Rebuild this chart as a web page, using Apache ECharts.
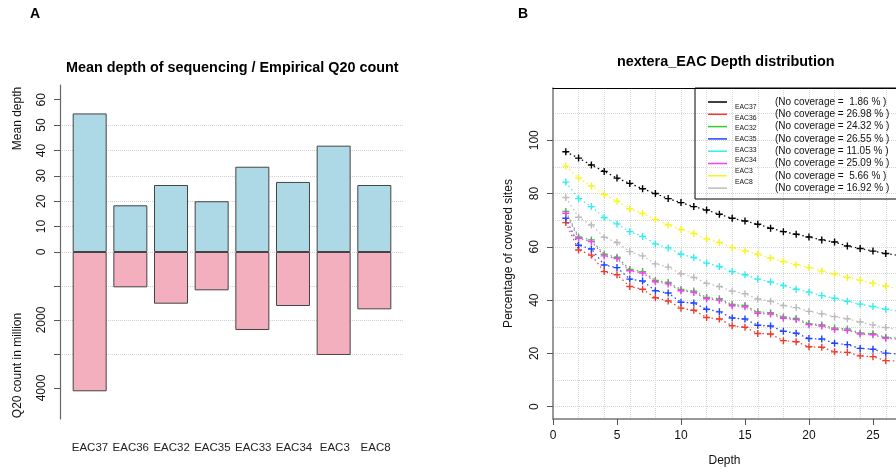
<!DOCTYPE html>
<html><head><meta charset="utf-8">
<script src="https://cdn.jsdelivr.net/npm/echarts@6/dist/echarts.min.js"></script>
<style>html,body{margin:0;padding:0;background:#fff}#c{width:896px;height:472px}</style>
</head><body><div id="c"></div>
<script>
// ---------- Panel A data ----------
const categories = ['EAC37','EAC36','EAC32','EAC35','EAC33','EAC34','EAC3','EAC8'];
const meanDepth = [54.6, 18.4, 26.4, 20.0, 33.6, 27.6, 41.9, 26.4];
const q20Million = [4097, 1039, 1520, 1127, 2294, 1588, 3029, 1686];
const meanDepthTicks = [0, 10, 20, 30, 40, 50, 60];
const q20Ticks = [0, 1000, 2000, 3000, 4000];
const q20Labels = [2000, 4000];

// ---------- Panel B data ----------
const depth = [1,2,3,4,5,6,7,8,9,10,11,12,13,14,15,16,17,18,19,20,21,22,23,24,25,26,27];
const seriesNames = ['EAC37','EAC36','EAC32','EAC35','EAC33','EAC34','EAC3','EAC8'];
const eac37 = [95.7,93.3,90.7,88.3,85.8,83.8,81.8,80.0,78.1,76.6,75.1,73.8,72.2,70.7,69.7,68.5,67.0,65.7,64.7,63.7,62.6,61.8,60.3,59.4,58.4,57.5,56.8];
const eac36 = [69.1,58.8,56.9,50.7,49.5,45.1,44.1,40.9,39.7,37.0,36.2,33.5,32.9,30.4,29.8,27.5,27.3,24.8,24.4,22.5,22.3,20.6,20.4,19.1,18.8,17.3,17.1];
const eac32 = [73.3,63.7,62.6,57.2,56.1,51.5,50.7,47.4,46.6,44.0,43.4,41.0,40.5,38.4,38.0,35.6,35.3,33.7,33.1,31.2,30.7,29.5,29.2,27.7,27.4,26.1,25.7];
const eac35 = [70.7,60.6,59.2,53.2,52.2,47.9,47.2,43.5,42.7,39.2,38.9,36.6,35.6,33.3,32.9,30.6,30.3,28.3,27.6,25.6,25.4,23.8,23.3,21.9,21.6,20.1,19.8];
const eac33 = [84.3,78.1,75.1,71.0,68.6,65.7,63.9,61.1,59.6,57.2,56.0,53.9,52.6,50.7,49.5,47.9,46.8,45.5,44.1,43.0,41.7,40.7,39.6,38.5,37.6,36.6,35.8];
const eac34 = [72.6,63.2,62.0,56.6,55.6,51.0,50.2,46.9,46.1,43.5,42.9,40.5,40.0,37.9,37.5,35.1,34.8,33.2,32.7,30.8,30.3,29.0,28.7,27.3,27.0,25.7,25.3];
const eac3  = [90.3,85.8,82.8,79.6,77.1,74.3,72.5,70.3,68.2,66.5,65.0,63.0,61.6,59.7,58.5,57.2,55.8,54.5,53.3,52.2,50.9,49.8,48.5,47.5,46.3,45.2,44.3];
const eac8  = [78.5,71.1,68.2,63.6,61.6,58.2,56.6,53.6,52.4,49.9,48.5,46.3,45.1,43.4,42.4,40.4,39.6,38.0,37.2,35.8,34.9,33.8,33.0,31.8,30.7,29.7,28.9];
const coverageLabels = ['(No coverage =  1.86 % )','(No coverage = 26.98 % )','(No coverage = 24.32 % )','(No coverage = 26.55 % )','(No coverage = 11.05 % )','(No coverage = 25.09 % )','(No coverage =  5.66 % )','(No coverage = 16.92 % )'];
const depthTickLabels = [0, 5, 10, 15, 20, 25];
const pctTickLabels = [0, 20, 40, 60, 80, 100];

const seriesValues = [eac37, eac36, eac32, eac35, eac33, eac34, eac3, eac8];
const seriesColors = ['#000000','#F03A2A','#33CC33','#2244FF','#33EEEE','#EE44EE','#F5F520','#BBBBBB'];

const FONT = "'Liberation Sans', Arial, Helvetica, sans-serif";
const plusPath = 'path://M4,0h2v4h4v2h-4v4h-2v-4h-4v-2h4z';
const plainNum = v => String(v);

const lineSeries = seriesNames.map((name, k) => ({
  name: name,
  type: 'line',
  xAxisIndex: 3,
  yAxisIndex: 3,
  data: depth.map((d, i) => [d, seriesValues[k][i]]),
  symbol: plusPath,
  symbolSize: 7,
  symbolKeepAspect: true,
  showAllSymbol: true,
  clip: true,
  lineStyle: { color: seriesColors[k], width: 1.2, type: [1.5, 3] },
  itemStyle: { color: seriesColors[k] },
  z: 3 + k
}));

const chart = echarts.init(document.getElementById('c'), null, { renderer: 'canvas' });
chart.setOption({
  animation: false,
  backgroundColor: '#ffffff',
  textStyle: { fontFamily: FONT },
  title: [
    { text: 'A', left: 30, top: 7, padding: 0, textStyle: { fontFamily: FONT, fontSize: 14, fontWeight: 'bold', color: '#000' } },
    { text: 'B', left: 518, top: 7, padding: 0, textStyle: { fontFamily: FONT, fontSize: 14, fontWeight: 'bold', color: '#000' } },
    { text: 'Mean depth of sequencing / Empirical Q20 count', left: 66, top: 61, padding: 0, textStyle: { fontFamily: FONT, fontSize: 14.4, fontWeight: 'bold', color: '#000' } },
    { text: 'nextera_EAC Depth distribution', left: 617, top: 55, padding: 0, textStyle: { fontFamily: FONT, fontSize: 14.4, fontWeight: 'bold', color: '#000' } }
  ],
  grid: [
    { left: 60, top: 85, width: 344, height: 167 },
    { left: 60, top: 252, width: 344, height: 167 },
    { left: 69.6, top: 418, width: 326.4, height: 1 },
    { left: 553, top: 88, right: 0, bottom: 51.3 }
  ],
  xAxis: [
    { gridIndex: 0, type: 'value', min: -0.73, max: 7.73, show: false },
    { gridIndex: 1, type: 'value', min: -0.73, max: 7.73, show: false },
    { gridIndex: 2, type: 'category', data: categories, axisLine: { show: false }, axisTick: { show: false },
      axisLabel: { interval: 0, margin: 23, fontSize: 11.5, color: '#222', fontFamily: FONT }, splitLine: { show: false } },
    { gridIndex: 3, type: 'value', min: 0, max: 26.8, position: 'bottom',
      axisLine: { show: true, onZero: false, lineStyle: { color: '#777', width: 1.5 } },
      axisTick: { show: true, customValues: depthTickLabels, length: 6, lineStyle: { color: '#555' } },
      axisLabel: { customValues: depthTickLabels, margin: 11, fontSize: 12, color: '#111', fontFamily: FONT },
      splitLine: { show: false },
      name: 'Depth', nameLocation: 'middle', nameGap: 36, nameTextStyle: { fontSize: 12, color: '#111', fontFamily: FONT } },
    { gridIndex: 3, type: 'value', min: 0, max: 26.8, interval: 2, position: 'top',
      axisLine: { show: true, onZero: false, lineStyle: { color: '#000', width: 1 } },
      axisTick: { show: false }, axisLabel: { show: false },
      splitLine: { show: true, showMinLine: false, showMaxLine: false, lineStyle: { type: 'dotted', color: '#d6d6d6', width: 1 } } }
  ],
  yAxis: [
    { gridIndex: 0, type: 'value', min: 0, max: 65.8, interval: 10,
      axisLine: { show: true, onZero: false, lineStyle: { color: '#666', width: 1.2 } },
      axisTick: { show: true, customValues: meanDepthTicks, length: 6, lineStyle: { color: '#555' } },
      axisLabel: { customValues: meanDepthTicks, formatter: plainNum, rotate: 90, margin: 12, fontSize: 12, color: '#111', fontFamily: FONT },
      splitLine: { show: true, showMaxLine: false, lineStyle: { type: 'dotted', color: '#d0d0d0' } },
      name: 'Mean depth', nameLocation: 'middle', nameGap: 36,
      nameTextStyle: { fontSize: 12, color: '#111', fontFamily: FONT, padding: [0, 0, 0, 100] } },
    { gridIndex: 1, type: 'value', inverse: true, min: 0, max: 4912, interval: 1000,
      axisLine: { show: true, onZero: false, lineStyle: { color: '#666', width: 1.2 } },
      axisTick: { show: true, customValues: q20Ticks, length: 6, lineStyle: { color: '#555' } },
      axisLabel: { customValues: q20Labels, formatter: plainNum, rotate: 90, margin: 12, fontSize: 12, color: '#111', fontFamily: FONT },
      splitLine: { show: true, showMinLine: false, showMaxLine: false, lineStyle: { type: 'dotted', color: '#d0d0d0' } },
      name: 'Q20 count in million', nameLocation: 'middle', nameGap: 36,
      nameTextStyle: { fontSize: 12, color: '#111', fontFamily: FONT, padding: [0, 60, 0, 0] } },
    { gridIndex: 2, type: 'value', show: false },
    { gridIndex: 3, type: 'value', min: -4.6, max: 119.6, splitNumber: 6,
      axisLine: { show: true, onZero: false, lineStyle: { color: '#777', width: 1.5 } },
      axisTick: { show: true, customValues: pctTickLabels, length: 6, lineStyle: { color: '#555' } },
      axisLabel: { customValues: pctTickLabels, formatter: plainNum, rotate: 90, margin: 12, fontSize: 12, color: '#111', fontFamily: FONT },
      splitLine: { show: false },
      name: 'Percentage of covered sites', nameLocation: 'middle', nameGap: 38,
      nameTextStyle: { fontSize: 12, color: '#111', fontFamily: FONT } },
    { gridIndex: 3, type: 'value', min: -4.6, max: 119.6, splitNumber: 12, position: 'left',
      axisLine: { show: false }, axisTick: { show: false }, axisLabel: { show: false },
      splitLine: { show: true, showMinLine: false, showMaxLine: false, lineStyle: { type: 'dotted', color: '#d6d6d6' } } }
  ],
  legend: [
    { data: seriesNames, orient: 'vertical', left: 703, top: 91, icon: 'rect', itemWidth: 19, itemHeight: 1.5, itemGap: 0.3,
      selectedMode: false, lineStyle: { type: 'solid', width: 1.5 },
      formatter: n => coverageLabels[seriesNames.indexOf(n)],
      textStyle: { fontSize: 10, lineHeight: 12, color: '#111', fontFamily: FONT, padding: [0, 0, 0, 43] } },
    { data: seriesNames, orient: 'vertical', left: 725, top: 98, icon: 'rect', itemWidth: 0, itemHeight: 8, itemGap: 2.7,
      selectedMode: false, itemStyle: { opacity: 0 }, lineStyle: { opacity: 0, width: 0 },
      textStyle: { fontSize: 6.8, lineHeight: 8, color: '#111', fontFamily: FONT } }
  ],
  graphic: [
    { type: 'rect', shape: { x: 695, y: 88, width: 210, height: 111 }, style: { fill: 'none', stroke: '#000', lineWidth: 1 }, z: 10 }
  ],
  series: [
    { name: 'Mean depth', type: 'bar', xAxisIndex: 0, yAxisIndex: 0, barWidth: 34,
      data: meanDepth.map((v, i) => [i, v]),
      itemStyle: { color: '#ADD8E6', borderColor: '#444', borderWidth: 1 } },
    { name: 'Q20 count in million', type: 'bar', xAxisIndex: 1, yAxisIndex: 1, barWidth: 34,
      data: q20Million.map((v, i) => [i, v]),
      itemStyle: { color: '#F4AFBE', borderColor: '#444', borderWidth: 1 } }
  ].concat(lineSeries)
});
</script></body></html>
